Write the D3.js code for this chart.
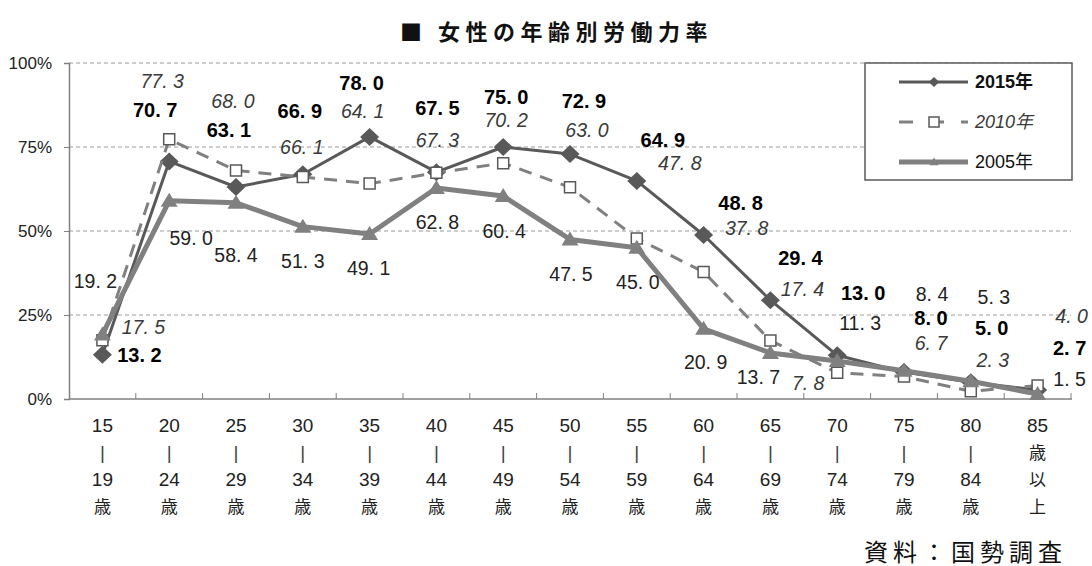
<!DOCTYPE html>
<meta charset="utf-8">
<style>
body { margin: 0; background: #fff; }
svg { display: block; }
.num { font-family: "Liberation Sans", "Noto Sans CJK JP", sans-serif; }
.cjk { font-family: "Liberation Sans", "Noto Sans CJK JP", sans-serif; }
</style>
<svg width="1092" height="566"></svg>
<script src="https://cdnjs.cloudflare.com/ajax/libs/d3/7.8.5/d3.min.js"></script>
<script>

// age groups (x axis)
var ageFrom = ["15","20","25","30","35","40","45","50","55","60","65","70","75","80","85"];
var ageTo   = ["19","24","29","34","39","44","49","54","59","64","69","74","79","84",""];

// labour force participation rate (%)
var rate2015 = [13.2, 70.7, 63.1, 66.9, 78.0, 67.5, 75.0, 72.9, 64.9, 48.8, 29.4, 13.0, 8.0, 5.0, 2.7];
var rate2010 = [17.5, 77.3, 68.0, 66.1, 64.1, 67.3, 70.2, 63.0, 47.8, 37.8, 17.4, 7.8, 6.7, 2.3, 4.0];
var rate2005 = [19.2, 59.0, 58.4, 51.3, 49.1, 62.8, 60.4, 47.5, 45.0, 20.9, 13.7, 11.3, 8.4, 5.3, 1.5];

var yTicks = [0, 25, 50, 75, 100];

// hand placed label offsets (dx, dy) from each point, like the original
var off2015 = [[37,0],[-14,-51],[-7,-57],[-3,-63],[-8,-54],[1,-64],[3,-50],[14,-53],[26,-41],[37,-32],[30,-42],[26,-62],[27,-54],[21,-54],[32,-42]];
var off2010 = [[41,-13],[-7,-58],[-3,-70],[-1,-30],[-7,-73],[1,-33],[3,-43],[17,-57],[43,-75],[43,-44],[32,-52],[-29,10],[27,-33],[22,-31],[34,-70]];
var off2005 = [[-7,-53],[22,37],[0,52],[0,34],[-1,34],[1,34],[1,35],[1,35],[1,34],[2,33],[-12,24],[23,-38],[28,-77],[23,-84],[32,-15]];

var svg = d3.select("svg");

var x = d3.scaleBand().domain(ageFrom).range([69, 1071]);
var y = d3.scaleLinear().domain([0, 100]).range([399, 63]);
var cx = function(i) { return x(ageFrom[i]) + x.bandwidth() / 2; };

function fmt(v) { return d3.format(".1f")(v).replace(".", ". "); }

// title
svg.append("text")
    .attr("x", 400).attr("y", 30)
    .attr("dominant-baseline", "central")
    .style("font-family", "'Noto Sans CJK JP', sans-serif")
    .style("font-size", "22px")
    .style("font-weight", "bold")
    .style("letter-spacing", "5.5px")
    .attr("fill", "#111")
    .text("■ 女性の年齢別労働力率");

// grid
svg.append("g")
  .selectAll("line")
  .data(yTicks.filter(function(d) { return d > 0; }))
  .enter().append("line")
    .attr("x1", 69).attr("x2", 1071)
    .attr("y1", function(d) { return y(d); })
    .attr("y2", function(d) { return y(d); })
    .attr("stroke", "#9a9a9a")
    .attr("stroke-width", 1)
    .attr("stroke-dasharray", "4,3");

// y axis
var yAxis = svg.append("g")
    .attr("transform", "translate(69,0)")
    .call(d3.axisLeft(y).tickValues(yTicks).tickSize(5).tickFormat(function(d) { return d + "%"; }));
yAxis.select(".domain").attr("stroke", "#808080").attr("stroke-width", 1.5);
yAxis.selectAll(".tick line").attr("stroke", "#808080");
yAxis.selectAll(".tick text")
    .attr("x", -17)
    .attr("dy", "0.35em")
    .attr("fill", "#222")
    .style("font-family", "'Liberation Sans', sans-serif")
    .style("font-size", "17px");

// x axis
var xAxis = svg.append("g")
    .attr("transform", "translate(0,399)");
xAxis.append("line")
    .attr("x1", 69).attr("x2", 1072)
    .attr("stroke", "#808080").attr("stroke-width", 1.5);
xAxis.selectAll("line.tk")
  .data(ageFrom.slice(1).concat(["end"]))
  .enter().append("line")
    .attr("class", "tk")
    .attr("x1", function(d) { return d === "end" ? 1071 : x(d); })
    .attr("x2", function(d) { return d === "end" ? 1071 : x(d); })
    .attr("y1", 0).attr("y2", -6)
    .attr("stroke", "#808080");

var xl = svg.append("g")
  .selectAll("text")
  .data(ageFrom)
  .enter().append("text")
    .attr("class", "cjk")
    .attr("text-anchor", "middle")
    .attr("fill", "#222")
    .style("font-size", "19px");
xl.each(function(d, i) {
  var lines = ageTo[i] ? [d, "|", ageTo[i], "歳"] : [d, "歳", "以", "上"];
  var t = d3.select(this);
  lines.forEach(function(s, k) {
    var isNum = /[0-9|]/.test(s);
    t.append("tspan")
      .attr("x", cx(i))
      .attr("y", 432 + k * 27)
      .style("font-family", isNum ? "'Liberation Sans', sans-serif" : "'Noto Sans CJK JP', sans-serif")
      .style("font-size", isNum ? "19px" : "17px")
      .attr("fill", s === "|" ? "#444" : null)
      .text(s);
  });
});

// series
var series = [
  { name: "2015年", values: rate2015, offsets: off2015, color: "#595959", width: 3, dash: null, marker: "diamond",
    labelColor: "#000", labelStyle: "normal", labelWeight: "bold" },
  { name: "2010年", values: rate2010, offsets: off2010, color: "#808080", width: 3, dash: "13,9", marker: "square",
    labelColor: "#3a3a3a", labelStyle: "italic", labelWeight: "normal" },
  { name: "2005年", values: rate2005, offsets: off2005, color: "#808080", width: 5, dash: null, marker: "triangle",
    labelColor: "#222", labelStyle: "normal", labelWeight: "normal" }
];

function markerPath(kind, s) {
  if (kind === "diamond") return "M0," + (-9 * s) + "L" + (9.5 * s) + ",0L0," + (9 * s) + "L" + (-9.5 * s) + ",0Z";
  if (kind === "square") return "M-5.5,-5.5H5.5V5.5H-5.5Z";
  return "M0," + (-8 * s) + "L" + (8.5 * s) + "," + (6 * s) + "L" + (-8.5 * s) + "," + (6 * s) + "Z";
}

var line = d3.line()
    .x(function(d, i) { return cx(i); })
    .y(function(d) { return y(d); });

series.forEach(function(s) {
  var g = svg.append("g");
  g.append("path")
      .datum(s.values)
      .attr("d", line)
      .attr("fill", "none")
      .attr("stroke", s.color)
      .attr("stroke-width", s.width)
      .attr("stroke-dasharray", s.dash)
      .attr("stroke-linejoin", "round");
  g.selectAll("path.mk")
    .data(s.values)
    .enter().append("path")
      .attr("class", "mk")
      .attr("transform", function(d, i) { return "translate(" + cx(i) + "," + y(d) + ")"; })
      .attr("d", markerPath(s.marker, 1))
      .attr("fill", s.marker === "square" ? "#fff" : s.color)
      .attr("stroke", s.marker === "square" ? "#595959" : "none")
      .attr("stroke-width", 1.5);
});

// data labels
series.forEach(function(s) {
  svg.append("g")
    .selectAll("text")
    .data(s.values)
    .enter().append("text")
      .attr("class", "num")
      .attr("x", function(d, i) { return cx(i) + s.offsets[i][0]; })
      .attr("y", function(d, i) { return y(d) + s.offsets[i][1]; })
      .attr("text-anchor", "middle")
      .attr("dominant-baseline", "central")
      .attr("fill", s.labelColor)
      .style("font-size", s.labelWeight === "bold" ? "20px" : "19.5px")
      .style("font-style", s.labelStyle)
      .style("font-weight", s.labelWeight)
      .text(function(d) { return fmt(d); });
});

// legend
var legend = svg.append("g");
legend.append("rect")
    .attr("x", 865).attr("y", 63)
    .attr("width", 207).attr("height", 117)
    .attr("fill", "#fff")
    .attr("stroke", "#595959")
    .attr("stroke-width", 1.5);
series.forEach(function(s, k) {
  var ly = 82 + k * 40;
  var lg = legend.append("g");
  lg.append("line")
      .attr("x1", 899).attr("x2", 968)
      .attr("y1", ly).attr("y2", ly)
      .attr("stroke", s.color)
      .attr("stroke-width", s.width)
      .attr("stroke-dasharray", s.dash ? "14,17" : null);
  lg.append("path")
      .attr("transform", "translate(934," + ly + ")")
      .attr("d", s.marker === "square" ? "M-5,-5H5V5H-5Z" : markerPath(s.marker, 0.55))
      .attr("fill", s.marker === "square" ? "#fff" : s.color)
      .attr("stroke", s.marker === "square" ? "#595959" : "none")
      .attr("stroke-width", 1.5);
  lg.append("text")
      .attr("x", 975).attr("y", ly)
      .attr("dominant-baseline", "central")
      .style("font-family", "'Liberation Sans', 'Noto Sans CJK JP', sans-serif")
      .style("font-size", "18px")
      .style("font-style", s.labelStyle)
      .style("font-weight", s.labelWeight)
      .attr("fill", k === 1 ? "#3a3a3a" : "#111")
      .text(s.name);
});

// source
svg.append("text")
    .attr("x", 1067).attr("y", 550)
    .attr("text-anchor", "end")
    .attr("dominant-baseline", "central")
    .style("font-family", "'Noto Sans CJK JP', sans-serif")
    .style("font-size", "24px")
    .style("letter-spacing", "5px")
    .attr("fill", "#111")
    .text("資料：国勢調査");

</script>
